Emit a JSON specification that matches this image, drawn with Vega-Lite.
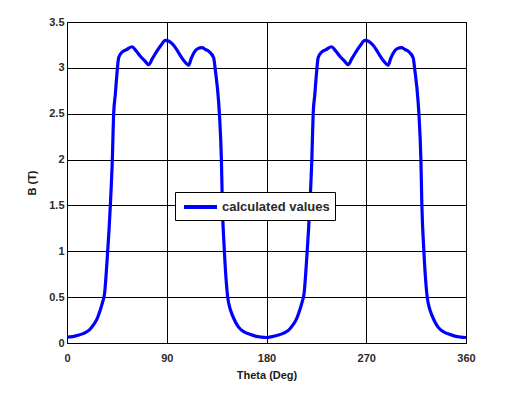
{
  "$schema": "https://vega.github.io/schema/vega-lite/v6.json",
  "width": 399,
  "height": 321,
  "autosize": "none",
  "padding": {"left": 67, "top": 22, "right": 39, "bottom": 50},
  "background": "white",
  "config": {
    "view": {"stroke": "#000000", "strokeWidth": 1},
    "font": "Liberation Sans",
    "axis": {
      "grid": true,
      "gridColor": "#000000",
      "gridOpacity": 1,
      "gridWidth": 1,
      "domain": false,
      "ticks": false,
      "labelFont": "Liberation Sans",
      "labelFontSize": 11,
      "labelFontWeight": "bold",
      "labelColor": "#2a2a2a",
      "titleFont": "Liberation Sans",
      "titleFontSize": 11,
      "titleFontWeight": "bold",
      "titleColor": "#1a1a1a"
    }
  },
  "data": {
    "values": [
      {"theta": 0, "B": 0.065}, {"theta": 5, "B": 0.07}, {"theta": 10, "B": 0.085},
      {"theta": 15, "B": 0.105}, {"theta": 20, "B": 0.14}, {"theta": 24, "B": 0.2},
      {"theta": 27, "B": 0.26}, {"theta": 30, "B": 0.36}, {"theta": 32, "B": 0.44},
      {"theta": 34, "B": 0.55}, {"theta": 35.5, "B": 0.78}, {"theta": 36.7, "B": 1.0},
      {"theta": 38, "B": 1.25}, {"theta": 39.1, "B": 1.5}, {"theta": 40.9, "B": 2.0},
      {"theta": 42.1, "B": 2.5}, {"theta": 43.6, "B": 2.71}, {"theta": 45.1, "B": 2.94},
      {"theta": 46.6, "B": 3.11}, {"theta": 49.6, "B": 3.17}, {"theta": 54, "B": 3.2},
      {"theta": 58.7, "B": 3.23}, {"theta": 62, "B": 3.19}, {"theta": 66, "B": 3.13},
      {"theta": 70, "B": 3.08}, {"theta": 73.7, "B": 3.035}, {"theta": 77, "B": 3.1},
      {"theta": 81, "B": 3.18}, {"theta": 85, "B": 3.25}, {"theta": 88.7, "B": 3.3},
      {"theta": 92, "B": 3.29}, {"theta": 96, "B": 3.25}, {"theta": 99, "B": 3.2},
      {"theta": 102, "B": 3.14}, {"theta": 106, "B": 3.07}, {"theta": 109.8, "B": 3.03},
      {"theta": 112, "B": 3.1}, {"theta": 114.3, "B": 3.16}, {"theta": 118, "B": 3.21},
      {"theta": 121.8, "B": 3.22}, {"theta": 125, "B": 3.2}, {"theta": 128, "B": 3.18},
      {"theta": 132.3, "B": 3.11}, {"theta": 133.8, "B": 2.98}, {"theta": 136.8, "B": 2.63},
      {"theta": 137.5, "B": 2.5}, {"theta": 139.3, "B": 2.0}, {"theta": 140.2, "B": 1.5},
      {"theta": 142, "B": 1.0}, {"theta": 145, "B": 0.5}, {"theta": 147, "B": 0.38},
      {"theta": 149, "B": 0.31}, {"theta": 152, "B": 0.23}, {"theta": 155, "B": 0.17},
      {"theta": 160, "B": 0.12}, {"theta": 165, "B": 0.095}, {"theta": 170, "B": 0.075},
      {"theta": 175, "B": 0.065}, {"theta": 180, "B": 0.06},
      {"theta": 185, "B": 0.07}, {"theta": 190, "B": 0.085},
      {"theta": 195, "B": 0.105}, {"theta": 200, "B": 0.14}, {"theta": 204, "B": 0.2},
      {"theta": 207, "B": 0.26}, {"theta": 210, "B": 0.36}, {"theta": 212, "B": 0.44},
      {"theta": 214, "B": 0.55}, {"theta": 215.5, "B": 0.78}, {"theta": 216.7, "B": 1.0},
      {"theta": 218, "B": 1.25}, {"theta": 219.1, "B": 1.5}, {"theta": 220.9, "B": 2.0},
      {"theta": 222.1, "B": 2.5}, {"theta": 223.6, "B": 2.71}, {"theta": 225.1, "B": 2.94},
      {"theta": 226.6, "B": 3.11}, {"theta": 229.6, "B": 3.17}, {"theta": 234, "B": 3.2},
      {"theta": 238.7, "B": 3.23}, {"theta": 242, "B": 3.19}, {"theta": 246, "B": 3.13},
      {"theta": 250, "B": 3.08}, {"theta": 253.7, "B": 3.035}, {"theta": 257, "B": 3.1},
      {"theta": 261, "B": 3.18}, {"theta": 265, "B": 3.25}, {"theta": 268.7, "B": 3.3},
      {"theta": 272, "B": 3.29}, {"theta": 276, "B": 3.25}, {"theta": 279, "B": 3.2},
      {"theta": 282, "B": 3.14}, {"theta": 286, "B": 3.07}, {"theta": 289.8, "B": 3.03},
      {"theta": 292, "B": 3.1}, {"theta": 294.3, "B": 3.16}, {"theta": 298, "B": 3.21},
      {"theta": 301.8, "B": 3.22}, {"theta": 305, "B": 3.2}, {"theta": 308, "B": 3.18},
      {"theta": 312.3, "B": 3.11}, {"theta": 313.8, "B": 2.98}, {"theta": 316.8, "B": 2.63},
      {"theta": 317.5, "B": 2.5}, {"theta": 319.3, "B": 2.0}, {"theta": 320.2, "B": 1.5},
      {"theta": 322, "B": 1.0}, {"theta": 325, "B": 0.5}, {"theta": 327, "B": 0.38},
      {"theta": 329, "B": 0.31}, {"theta": 332, "B": 0.23}, {"theta": 335, "B": 0.17},
      {"theta": 340, "B": 0.12}, {"theta": 345, "B": 0.095}, {"theta": 350, "B": 0.075},
      {"theta": 355, "B": 0.065}, {"theta": 360, "B": 0.06}
    ]
  },
  "mark": {"type": "line", "strokeWidth": 3.2, "clip": true, "interpolate": "monotone"},
  "encoding": {
    "x": {
      "field": "theta",
      "type": "quantitative",
      "scale": {"domain": [0, 360], "nice": false, "zero": false},
      "axis": {
        "title": "Theta (Deg)",
        "values": [0, 90, 180, 270, 360],
        "labelFlush": false,
        "labelOverlap": false,
        "labelPadding": 9,
        "titlePadding": 6
      }
    },
    "y": {
      "field": "B",
      "type": "quantitative",
      "scale": {"domain": [0, 3.5], "nice": false},
      "axis": {
        "title": "B (T)",
        "format": "~g",
        "values": [0, 0.5, 1, 1.5, 2, 2.5, 3, 3.5],
        "labelFlush": false,
        "labelOverlap": false,
        "labelPadding": 3,
        "titlePadding": 11
      }
    },
    "color": {
      "datum": "calculated values",
      "type": "nominal",
      "scale": {"range": ["#0000FF"]},
      "legend": {
        "title": null,
        "orient": "none",
        "legendX": 108,
        "legendY": 170,
        "direction": "vertical",
        "symbolType": "M-0.75,0H3.375",
        "symbolSize": 256,
        "symbolStrokeWidth": 4,
        "labelFont": "Liberation Sans",
        "labelFontSize": 13,
        "labelFontWeight": "bold",
        "labelColor": "#2a2a2a",
        "labelOffset": 22,
        "strokeColor": "#000000",
        "fillColor": "#ffffff",
        "padding": 5
      }
    }
  }
}
